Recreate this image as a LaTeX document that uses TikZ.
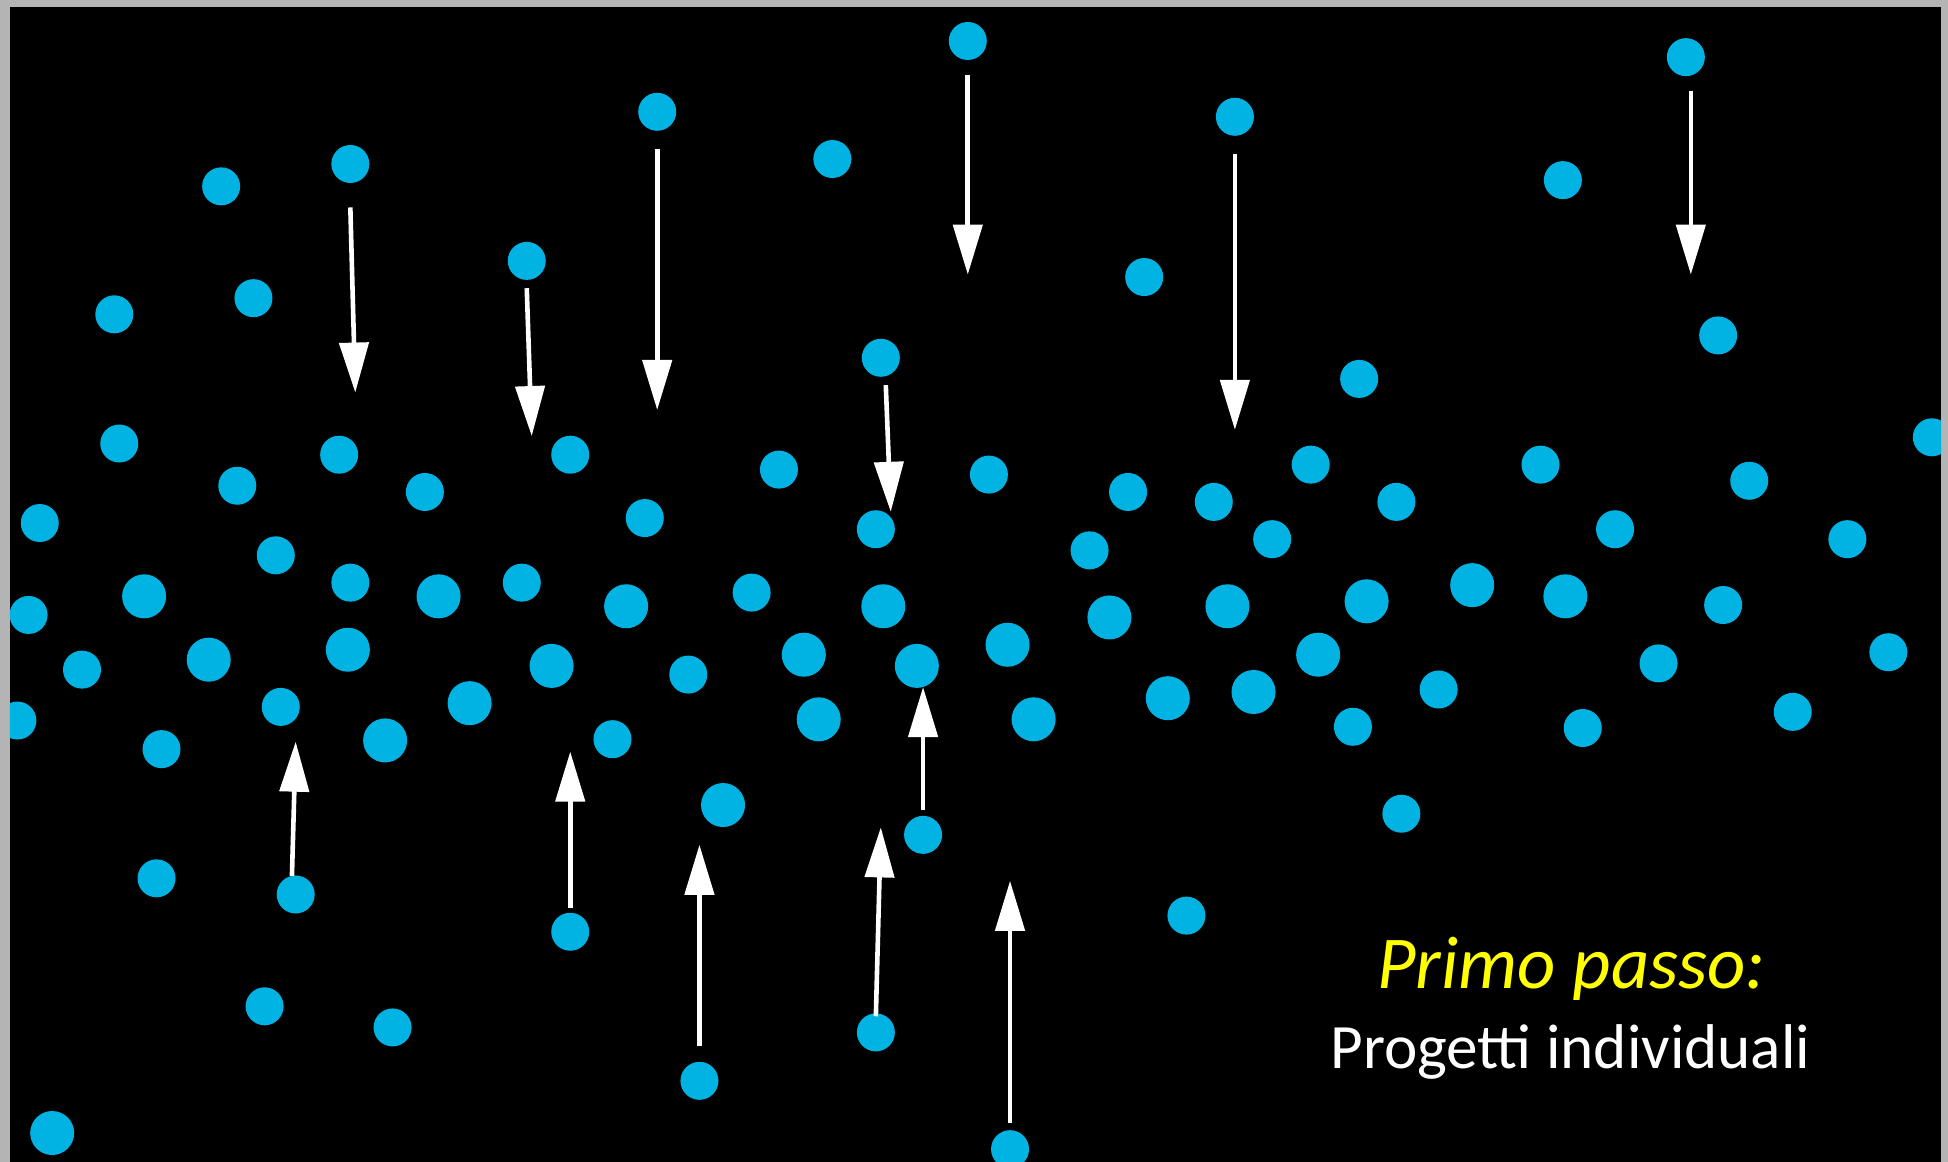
\documentclass[tikz,border=0pt]{standalone}
\usepackage{fontspec}
\setmainfont{Carlito}
\usetikzlibrary{arrows.meta}
\definecolor{framegray}{HTML}{B4B4B4}
\definecolor{dotc}{HTML}{00B3E3}
\definecolor{titleyellow}{HTML}{FFFF00}
\begin{document}
\begin{tikzpicture}[x=0.62117pt,y=-0.62117pt,
  dot/.style={circle,fill=dotc,inner sep=0pt,minimum size=19pt},
  bigdot/.style={dot,minimum size=22pt},
  mv/.style={draw=white,line width=2.3pt,-{Triangle[width=14.5pt,length=25pt]}}]
\useasboundingbox (0,0) rectangle (1568,935);
\fill[framegray] (0,0) rectangle (1568,935);
\fill[black] (8,5.6) rectangle (1562.4,935);
\begin{scope}
\clip (8,5.6) rectangle (1562.4,935);
\foreach \n/\x/\y in {1/779/33,2/1357/46,3/529/90,4/994/94,5/282/132,6/178/150,7/670/128,8/1258/145,
  9/424/210,10/921/223,11/92/253,12/204/240,13/1383/270,14/709/288,15/1094/305,16/96/357,
  17/273/366,18/459/366,19/1555/352,20/627/378,21/796/382,22/1240/374,23/1055/374,24/191/391,
  25/342/396,26/908/396,27/977/404,28/1124/404,29/1408/387,30/32/421,31/519/417,32/705/426,
  33/1300/426,34/1024/434,35/1487/434,36/222/447,37/877/443,38/282/469,39/420/469,40/23/495,
  44/605/477,50/1387/487,52/66/539,56/554/543,61/1335/534,62/1520/525,63/14/580,64/226/569,
  68/1158/555,69/130/603,71/493/595,74/1089/585,75/1274/586,76/1443/573,78/1128/655,79/743/672,
  80/126/707,81/238/720,82/955/737,83/459/750,84/213/810,85/316/827,86/705/831,87/563/870,89/813/925}
  \node[dot] (d\n) at (\x,\y) {};
\foreach \n/\x/\y in {41/116/480,42/353/480,43/504/488,45/711/488,46/988/488,47/1100/484,48/1185/471,
  49/1260/480,51/893/497,53/168/531,54/280/523,55/444/536,57/647/527,58/738/536,59/811/519,
  60/1061/527,65/378/566,66/940/562,67/1009/557,70/310/596,72/659/579,73/832/579,77/582/648,88/42/912}
  \node[bigdot] (d\n) at (\x,\y) {};
\end{scope}
% arrows
\foreach \n/\xa/\ya/\xb/\yb in {a1/282/167/286/316,a2/424/232/428/351,a3/529/120/529/330,
  a4/779/60/779/221,a5/994/124/994/346,a6/1361/73/1361/221,a7/713/310/717/412,
  b1/235/705/238/597,b2/459/731/459/605,b3/563/842/563/680,b4/705/818/709/666,
  b5/743/652/743/553,b6/813/904/813/709}
{
  \coordinate (\n s) at (\xa,\ya);
  \coordinate (\n e) at (\xb,\yb);
  \draw[mv] (\n s) -- (\n e);
}
\node[anchor=base,text=titleyellow,font=\itshape\fontsize{37.3}{40}\selectfont] (t1) at (1265,796) {Primo passo:};
\node[anchor=base,text=white,font=\fontsize{31.6}{36}\selectfont] (t2) at (1264,860) {Progetti individuali};
\end{tikzpicture}
\end{document}
